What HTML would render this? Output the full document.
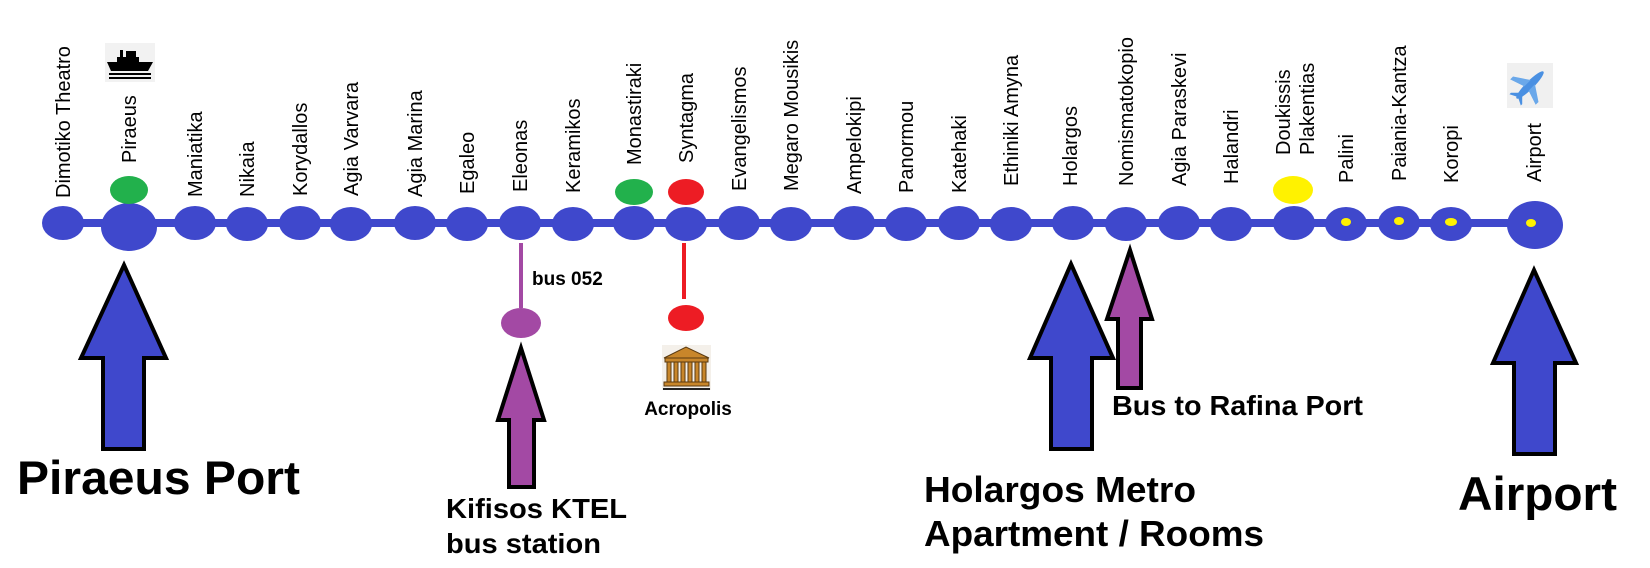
<!DOCTYPE html>
<html><head><meta charset="utf-8"><style>
html,body{margin:0;padding:0;background:#fff;}
svg{display:block;}
.l{font-family:"Liberation Sans",Arial,sans-serif;font-size:20px;fill:#000;}
.b{font-family:"Liberation Sans",Arial,sans-serif;font-weight:bold;fill:#000;}
</style></head><body>
<svg width="1650" height="568" viewBox="0 0 1650 568" xmlns="http://www.w3.org/2000/svg">
<rect width="1650" height="568" fill="#fff"/>
<rect x="60" y="219" width="1475" height="8" fill="#3f48cc"/>
<g fill="#3f48cc">
<ellipse cx="63" cy="223" rx="21" ry="17"/>
<ellipse cx="129" cy="227" rx="28" ry="24"/>
<ellipse cx="195" cy="223" rx="21" ry="17"/>
<ellipse cx="247" cy="224" rx="21" ry="17"/>
<ellipse cx="300" cy="223" rx="21" ry="17"/>
<ellipse cx="351" cy="224" rx="21" ry="17"/>
<ellipse cx="415" cy="223" rx="21" ry="17"/>
<ellipse cx="467" cy="224" rx="21" ry="17"/>
<ellipse cx="520" cy="223" rx="21" ry="17"/>
<ellipse cx="573" cy="224" rx="21" ry="17"/>
<ellipse cx="634" cy="223" rx="21" ry="17"/>
<ellipse cx="686" cy="224" rx="21" ry="17"/>
<ellipse cx="739" cy="223" rx="21" ry="17"/>
<ellipse cx="791" cy="224" rx="21" ry="17"/>
<ellipse cx="854" cy="223" rx="21" ry="17"/>
<ellipse cx="906" cy="224" rx="21" ry="17"/>
<ellipse cx="959" cy="223" rx="21" ry="17"/>
<ellipse cx="1011" cy="224" rx="21" ry="17"/>
<ellipse cx="1073" cy="223" rx="21" ry="17"/>
<ellipse cx="1126" cy="224" rx="21" ry="17"/>
<ellipse cx="1179" cy="223" rx="21" ry="17"/>
<ellipse cx="1231" cy="224" rx="21" ry="17"/>
<ellipse cx="1294" cy="223" rx="21" ry="17"/>
<ellipse cx="1346" cy="224" rx="21" ry="17"/>
<ellipse cx="1399" cy="223" rx="21" ry="17"/>
<ellipse cx="1451" cy="224" rx="21" ry="17"/>
<ellipse cx="1535" cy="225" rx="28" ry="24"/>
</g>
<g fill="#fff200">
<ellipse cx="1346" cy="222" rx="5" ry="4"/>
<ellipse cx="1399" cy="221" rx="5" ry="4"/>
<ellipse cx="1451" cy="222" rx="6" ry="4"/>
<ellipse cx="1531" cy="223" rx="5" ry="4"/>
<ellipse cx="1293" cy="190" rx="20" ry="14"/>
</g>
<ellipse cx="129" cy="190" rx="19" ry="14" fill="#22b14c"/>
<ellipse cx="634" cy="192" rx="19" ry="13" fill="#22b14c"/>
<ellipse cx="686" cy="192" rx="18" ry="13" fill="#ed1c24"/>

<g class="l">
<text transform="translate(70,198) rotate(-90)">Dimotiko Theatro</text>
<text transform="translate(136,163) rotate(-90)">Piraeus</text>
<text transform="translate(202,197) rotate(-90)">Maniatika</text>
<text transform="translate(254,197) rotate(-90)">Nikaia</text>
<text transform="translate(307,196) rotate(-90)">Korydallos</text>
<text transform="translate(358,196) rotate(-90)">Agia Varvara</text>
<text transform="translate(422,197) rotate(-90)">Agia Marina</text>
<text transform="translate(474,194) rotate(-90)">Egaleo</text>
<text transform="translate(527,192) rotate(-90)">Eleonas</text>
<text transform="translate(580,193) rotate(-90)">Keramikos</text>
<text transform="translate(641,165) rotate(-90)">Monastiraki</text>
<text transform="translate(693,163) rotate(-90)">Syntagma</text>
<text transform="translate(746,191) rotate(-90)">Evangelismos</text>
<text transform="translate(798,191) rotate(-90)">Megaro Mousikis</text>
<text transform="translate(861,194) rotate(-90)">Ampelokipi</text>
<text transform="translate(913,193) rotate(-90)">Panormou</text>
<text transform="translate(966,193) rotate(-90)">Katehaki</text>
<text transform="translate(1018,186) rotate(-90)">Ethiniki Amyna</text>
<text transform="translate(1077,186) rotate(-90)">Holargos</text>
<text transform="translate(1133,186) rotate(-90)">Nomismatokopio</text>
<text transform="translate(1186,186) rotate(-90)">Agia Paraskevi</text>
<text transform="translate(1238,184) rotate(-90)">Halandri</text>
<text transform="translate(1290,155) rotate(-90)">Doukissis</text>
<text transform="translate(1314,155) rotate(-90)">Plakentias</text>
<text transform="translate(1353,183) rotate(-90)">Palini</text>
<text transform="translate(1406,181) rotate(-90)">Paiania-Kantza</text>
<text transform="translate(1458,183) rotate(-90)">Koropi</text>
<text transform="translate(1541,182) rotate(-90)">Airport</text>
</g>

<rect x="105" y="43" width="50" height="39" fill="#f2f2f2"/>
<g fill="#000">
<rect x="120" y="50" width="3" height="8"/>
<rect x="126" y="51" width="10" height="8"/>
<rect x="117" y="57" width="22" height="5"/>
<path d="M107 62 H153 L148 71 H111 Z"/>
<rect x="109" y="73" width="42" height="2"/>
<rect x="109" y="77" width="42" height="2"/>
</g>
<rect x="1507" y="63" width="46" height="45" fill="#f0f0f0"/>
<g fill="#4a90e2" transform="translate(1530,85) rotate(45)">
<ellipse cx="0" cy="0" rx="4" ry="19"/>
<path d="M-3 -4 L-18 6 L-18 10 L-3 5 Z M3 -4 L18 6 L18 10 L3 5 Z" fill="#6aa8ea"/>
<path d="M-2 13 L-8 19 L-8 21 L0 17 L8 21 L8 19 L2 13 Z"/>
</g>

<rect x="519" y="243" width="4" height="65" fill="#a349a4"/>
<ellipse cx="521" cy="323" rx="20" ry="15" fill="#a349a4"/>
<text class="b" x="532" y="285" font-size="19">bus 052</text>
<rect x="682" y="243" width="4" height="56" fill="#ed1c24"/>
<ellipse cx="686" cy="318" rx="18" ry="13" fill="#ed1c24"/>
<rect x="662" y="345" width="49" height="45" fill="#f4f0ea"/>
<g fill="#c8862a" stroke="#5a3a10" stroke-width="1">
<path d="M664 358 L686 347 L709 358 Z"/>
<rect x="665" y="358" width="43" height="4"/>
<rect x="667" y="362" width="4" height="20"/><rect x="674" y="362" width="4" height="20"/>
<rect x="681" y="362" width="4" height="20"/><rect x="688" y="362" width="4" height="20"/>
<rect x="695" y="362" width="4" height="20"/><rect x="702" y="362" width="4" height="20"/>
<rect x="664" y="382" width="45" height="4"/>
</g>
<rect x="663" y="388" width="47" height="2" fill="#222"/>
<text class="b" x="688" y="415" font-size="19" text-anchor="middle">Acropolis</text>

<g stroke="#000" stroke-width="4" stroke-linejoin="miter">
<path d="M124 265 L166 358 L144 358 L144 449 L103 449 L103 358 L81 358 Z" fill="#3f48cc"/>
<path d="M521 348 L544 420 L534 420 L534 487 L509 487 L509 420 L498 420 Z" fill="#a349a4"/>
<path d="M1071 264 L1113 358 L1092 358 L1092 449 L1051 449 L1051 358 L1030 358 Z" fill="#3f48cc"/>
<path d="M1130 250 L1152 319 L1141 319 L1141 388 L1118 388 L1118 319 L1107 319 Z" fill="#a349a4"/>
<path d="M1534 270 L1576 363 L1555 363 L1555 454 L1514 454 L1514 363 L1493 363 Z" fill="#3f48cc"/>
</g>

<text class="b" x="17" y="494" font-size="47" textLength="283" lengthAdjust="spacingAndGlyphs">Piraeus Port</text>
<text class="b" x="446" y="518" font-size="28" textLength="181" lengthAdjust="spacingAndGlyphs">Kifisos KTEL</text>
<text class="b" x="446" y="553" font-size="28" textLength="155" lengthAdjust="spacingAndGlyphs">bus station</text>
<text class="b" x="1112" y="415" font-size="28" textLength="251" lengthAdjust="spacingAndGlyphs">Bus to Rafina Port</text>
<text class="b" x="924" y="502" font-size="36" textLength="272" lengthAdjust="spacingAndGlyphs">Holargos Metro</text>
<text class="b" x="924" y="546" font-size="36" textLength="340" lengthAdjust="spacingAndGlyphs">Apartment / Rooms</text>
<text class="b" x="1458" y="510" font-size="47" textLength="159" lengthAdjust="spacingAndGlyphs">Airport</text>
</svg>
</body></html>
